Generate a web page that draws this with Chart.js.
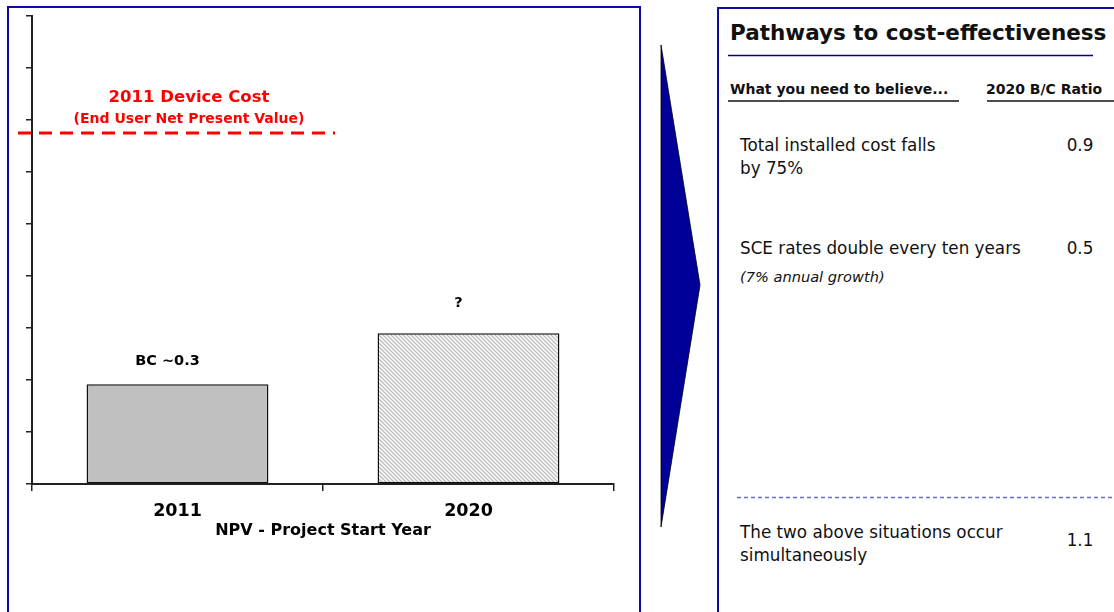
<!DOCTYPE html>
<html>
<head>
<meta charset="utf-8">
<script src="https://cdn.jsdelivr.net/npm/chart.js@4.4.1/dist/chart.umd.min.js"></script>
<style>
  body { margin: 0; width: 1114px; height: 612px; overflow: hidden; background: #fff; position: relative; font-family: "DejaVu Sans", sans-serif; color: #111; }
  #leftPanel { position: absolute; left: 7px; top: 6px; width: 630px; height: 660px; border: 2.5px solid #0c0c9e; }
  #rightPanel { position: absolute; left: 717px; top: 7px; width: 500px; height: 660px; border: 2.5px solid #0c0c9e; }
  #chart { position: absolute; left: 0; top: 0; }
  #deco { position: absolute; left: 0; top: 0; }
  .t { position: absolute; white-space: nowrap; }
  .title { font-weight: bold; font-size: 21.5px; line-height: 24px; }
  .head { font-weight: bold; font-size: 14px; line-height: 18px; }
  .row { font-size: 16.8px; line-height: 23px; }
  .note { font-size: 14.6px; line-height: 18px; font-style: italic; }
  .val { font-size: 16.8px; line-height: 23px; width: 60px; text-align: center; }
</style>
</head>
<body>
<div id="leftPanel"></div>
<div id="rightPanel"></div>
<svg id="deco" width="1114" height="612">
  <polygon points="661,45 700,285 661,527" fill="#000099" stroke="#000" stroke-width="0.8"/>
  <line x1="728" y1="55.5" x2="1093" y2="55.5" stroke="#000080" stroke-width="1.5"/>
  <line x1="728" y1="101" x2="959" y2="101" stroke="#111" stroke-width="1.6"/>
  <line x1="987" y1="101" x2="1114" y2="101" stroke="#111" stroke-width="1.6"/>
  <line x1="737" y1="497.5" x2="1114" y2="497.5" stroke="#6a6ac0" stroke-width="1.3" stroke-dasharray="4 3"/>
</svg>
<canvas id="chart" width="640" height="612"></canvas>
<div id="table"></div>

<script>
// left chart
const years = ['2011', '2020'];
const npvValues = [1.92, 2.9];
const barLabels = ['BC ~0.3', '?'];
const deviceCost = 6.75;
const deviceCostText = ['2011 Device Cost', '(End User Net Present Value)'];
const xTitle = 'NPV - Project Start Year';
const yMax = 9;

// right table
const panelTitle = 'Pathways to cost-effectiveness';
const colHeads = ['What you need to believe...', '2020 B/C Ratio'];
const pathways = [['Total installed cost falls', 'by 75%'], ['SCE rates double every ten years'], ['The two above situations occur', 'simultaneously']];
const pathwayNotes = ['', '(7% annual growth)', ''];
const bcRatios = ['0.9', '0.5', '1.1'];

function hatchPattern() {
  const c = document.createElement('canvas');
  c.width = c.height = 4;
  const g = c.getContext('2d');
  g.fillStyle = '#fff';
  g.fillRect(0, 0, 4, 4);
  g.strokeStyle = '#bcbcbc';
  g.lineWidth = 1.3;
  g.beginPath();
  g.moveTo(-1, -1); g.lineTo(5, 5);
  g.moveTo(-1, 3); g.lineTo(1, 5);
  g.moveTo(3, -1); g.lineTo(5, 1);
  g.stroke();
  return g.createPattern(c, 'repeat');
}

const overlay = {
  id: 'overlay',
  afterDatasetsDraw(chart) {
    const { ctx, scales: { x, y } } = chart;
    const meta = chart.getDatasetMeta(0);
    const gaps = [23.3, 30.3];
    ctx.save();
    ctx.textAlign = 'center';
    ctx.textBaseline = 'middle';
    ctx.fillStyle = '#000';
    ctx.font = 'bold 14.5px "DejaVu Sans"';
    meta.data.forEach((bar, i) => ctx.fillText(barLabels[i], bar.x - 10, bar.y - gaps[i]));

    // device cost reference line
    const yc = y.getPixelForValue(deviceCost);
    ctx.strokeStyle = '#ff0000';
    ctx.lineWidth = 3;
    ctx.setLineDash([13, 8]);
    ctx.beginPath();
    ctx.moveTo(x.left - 14, yc);
    ctx.lineTo(x.left + 303, yc);
    ctx.stroke();
    ctx.fillStyle = '#ff0000';
    ctx.font = 'bold 16.5px "DejaVu Sans"';
    ctx.fillText(deviceCostText[0], x.left + 157, yc - 35);
    ctx.font = 'bold 14px "DejaVu Sans"';
    ctx.fillText(deviceCostText[1], x.left + 157, yc - 13.5);
    ctx.restore();
  }
};

new Chart(document.getElementById('chart'), {
  type: 'bar',
  data: {
    labels: years,
    datasets: [{
      data: npvValues,
      backgroundColor: ['#c0c0c0', hatchPattern()],
      borderColor: '#111',
      borderWidth: 1.5,
      borderSkipped: false,
      barPercentage: 0.625,
      categoryPercentage: 1
    }]
  },
  options: {
    responsive: false,
    animation: false,
    events: [],
    layout: { padding: { left: 26, right: 26, top: 16, bottom: 58 } },
    plugins: { legend: { display: false }, tooltip: { enabled: false } },
    scales: {
      x: {
        offset: true,
        afterFit(scale) { scale.height = 70; },
        grid: { offset: true, drawOnChartArea: false, drawTicks: true, tickLength: 7, color: '#222', lineWidth: 1.5 },
        border: { color: '#222', width: 2 },
        ticks: { color: '#000', padding: 10, font: { family: 'DejaVu Sans', size: 17.5, weight: 'bold' } },
        title: { display: true, text: xTitle, color: '#000', padding: { top: 0, bottom: 13.4 }, font: { family: 'DejaVu Sans', size: 16, weight: 'bold' } }
      },
      y: {
        min: 0,
        max: yMax,
        ticks: { stepSize: 1, display: false },
        grid: { drawOnChartArea: false, drawTicks: true, tickLength: 6, color: '#222', lineWidth: 1.5 },
        border: { color: '#222', width: 2 }
      }
    }
  },
  plugins: [overlay]
});

// right side table
const table = document.getElementById('table');
function addText(cls, text, left, top) {
  const d = document.createElement('div');
  d.className = 't ' + cls;
  d.style.left = left + 'px';
  d.style.top = top + 'px';
  d.textContent = text;
  table.appendChild(d);
}
addText('title', panelTitle, 730, 21);
addText('head', colHeads[0], 730, 79.5);
addText('head', colHeads[1], 986, 79.5);
const rowTops = [133.5, 236.5, 520.5];
const valueTops = [133.5, 236.5, 528.5];
pathways.forEach((lines, i) => {
  lines.forEach((line, j) => addText('row', line, 740, rowTops[i] + j * 23));
  if (pathwayNotes[i]) addText('note', pathwayNotes[i], 740, rowTops[i] + 31.5);
  addText('val', bcRatios[i], 1050, valueTops[i]);
});
</script>
</body>
</html>
